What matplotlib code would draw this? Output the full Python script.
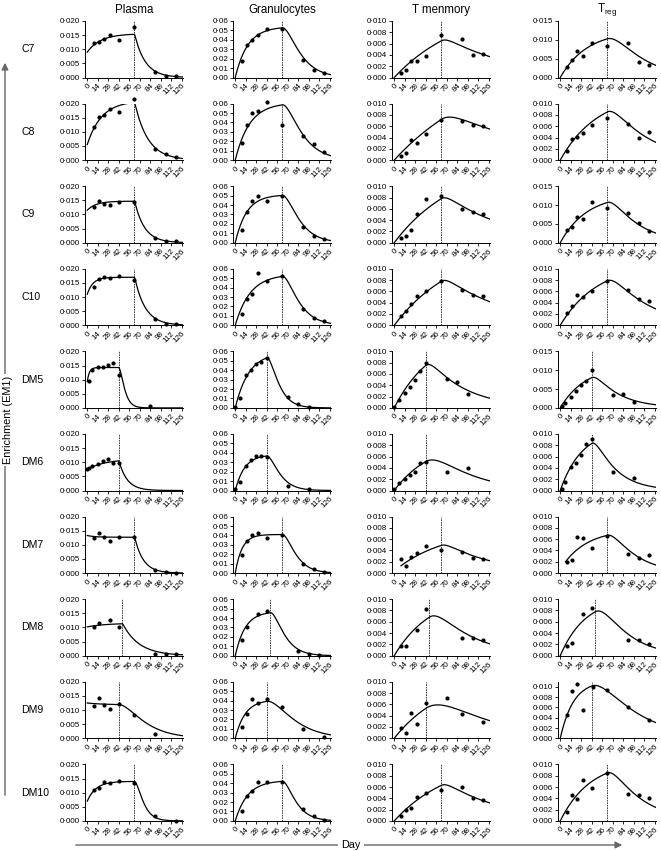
import numpy as np
import matplotlib
matplotlib.use("Agg")
import matplotlib.pyplot as plt

plt.rcParams['font.family'] = ['Liberation Sans', 'DejaVu Sans']

# ---------------- data ----------------
rows = ['C7', 'C8', 'C9', 'C10', 'DM5', 'DM6', 'DM7', 'DM8', 'DM9', 'DM10']
columns = ['Plasma', 'Granulocytes', 'T menmory', r'T$_{\mathregular{reg}}$']
stop_day = [63, 63, 63, 63, 42, 42, 63, 47, 42, 63]
x_ticks = [0, 14, 28, 42, 56, 70, 84, 98, 112, 126]

days_c = [9, 16, 23, 30, 42, 63, 91, 105, 119]
days_dm5 = [0, 7, 14, 21, 28, 35, 42, 70, 84, 98]

plasma_days = [days_c, days_c, days_c, days_c,
               [2, 7, 14, 21, 28, 35, 42, 84],
               [0, 2, 7, 14, 21, 28, 35, 42],
               days_c,
               [9, 16, 30, 42, 91, 105, 119],
               [9, 16, 23, 30, 42, 63, 91],
               [9, 16, 23, 30, 42, 63, 91, 119]]
plasma_vals = [[0.0123, 0.0127, 0.0138, 0.0150, 0.0132, 0.0177, 0.0020, 0.0005, 0.0006],
               [0.0118, 0.0153, 0.0160, 0.0180, 0.0170, 0.0218, 0.0040, 0.0020, 0.0010],
               [0.0127, 0.0149, 0.0136, 0.0133, 0.0144, 0.0145, 0.0018, 0.0005, 0.0005],
               [0.0137, 0.0163, 0.0171, 0.0168, 0.0174, 0.0161, 0.0024, 0.0005, 0.0005],
               [0.0096, 0.0134, 0.0144, 0.0146, 0.0152, 0.0159, 0.0115, 0.0006],
               [0.0076, 0.0079, 0.0085, 0.0094, 0.0105, 0.0113, 0.0098, 0.0097],
               [0.0126, 0.0141, 0.0129, 0.0114, 0.0127, 0.0129, 0.0012, 0.0004, 0.0002],
               [0.0102, 0.0115, 0.0127, 0.0100, 0.0007, 0.0005, 0.0005],
               [0.0113, 0.0144, 0.0119, 0.0104, 0.0120, 0.0084, 0.0014],
               [0.0108, 0.0116, 0.0136, 0.0135, 0.0142, 0.0135, 0.0017, 0.0001]]

gran_days = [days_c, days_c, days_c, days_c, days_dm5,
             [0, 7, 14, 21, 28, 35, 42, 70, 98],
             days_c,
             [9, 16, 30, 42, 84, 98, 112],
             [9, 16, 23, 30, 42, 63, 91, 119],
             days_c]
gran_vals = [[0.017, 0.034, 0.040, 0.045, 0.051, 0.052, 0.019, 0.008, 0.0045],
             [0.0185, 0.037, 0.050, 0.052, 0.062, 0.037, 0.026, 0.0167, 0.0085],
             [0.0136, 0.0329, 0.0443, 0.0500, 0.0440, 0.0500, 0.0168, 0.0075, 0.0039],
             [0.0121, 0.0275, 0.0332, 0.0554, 0.0471, 0.0525, 0.0175, 0.0082, 0.0046],
             [0.0007, 0.0108, 0.0349, 0.0406, 0.0467, 0.0485, 0.0528, 0.0119, 0.0043, 0.0011],
             [0.0018, 0.0093, 0.0255, 0.0327, 0.0370, 0.0370, 0.0360, 0.0047, 0.0018],
             [0.0187, 0.0342, 0.0406, 0.0424, 0.0378, 0.0406, 0.0099, 0.0039, 0.0007],
             [0.017, 0.030, 0.044, 0.047, 0.005, 0.0018, 0.0011],
             [0.0124, 0.0254, 0.0413, 0.0370, 0.0417, 0.0332, 0.0102, 0.0018],
             [0.0103, 0.0263, 0.0316, 0.0415, 0.0408, 0.0415, 0.0124, 0.0053, 0.0011]]

tmem_days = [days_c, days_c, days_c, days_c, days_dm5,
             [0, 7, 14, 21, 28, 35, 42, 70, 98],
             days_c,
             [9, 16, 30, 42, 91, 105, 119],
             [9, 16, 23, 30, 42, 70, 91, 119],
             days_c]
tmem_vals = [[0.0008, 0.0014, 0.0029, 0.0029, 0.0038, 0.0075, 0.0068, 0.0039, 0.0041],
             [0.0008, 0.0012, 0.0035, 0.0031, 0.0046, 0.0071, 0.0070, 0.0063, 0.0061],
             [0.0008, 0.0012, 0.0022, 0.0051, 0.0077, 0.0082, 0.0060, 0.0054, 0.0051],
             [0.0016, 0.0026, 0.0038, 0.0052, 0.0060, 0.0079, 0.0063, 0.0054, 0.0051],
             [0.0002, 0.0014, 0.0026, 0.0037, 0.0050, 0.0065, 0.0080, 0.0052, 0.0045, 0.0024],
             [0.0002, 0.0014, 0.0020, 0.0027, 0.0033, 0.0048, 0.0051, 0.0032, 0.0039],
             [0.0025, 0.0012, 0.0028, 0.0035, 0.0048, 0.0041, 0.0038, 0.0026, 0.0025],
             [0.0017, 0.0018, 0.0045, 0.0082, 0.0032, 0.0031, 0.0028],
             [0.0019, 0.0009, 0.0044, 0.0026, 0.0063, 0.0072, 0.0043, 0.0029],
             [0.0008, 0.0020, 0.0023, 0.0042, 0.0050, 0.0054, 0.0060, 0.0040, 0.0037]]

treg_days = [days_c, days_c, days_c, days_c,
             [3, 7, 14, 21, 28, 35, 42, 70, 84, 98],
             [2, 7, 14, 21, 28, 35, 42, 70, 98],
             days_c,
             [9, 16, 30, 42, 91, 105, 119],
             [9, 16, 23, 30, 44, 62, 91, 119],
             days_c]
treg_vals = [[0.0027, 0.0047, 0.0071, 0.0057, 0.0091, 0.0083, 0.0092, 0.0040, 0.0033],
             [0.0016, 0.0037, 0.0041, 0.0048, 0.0063, 0.0075, 0.0064, 0.0040, 0.0050],
             [0.0033, 0.0043, 0.0068, 0.0063, 0.0107, 0.0093, 0.0080, 0.0052, 0.0030],
             [0.0022, 0.0034, 0.0054, 0.0050, 0.0060, 0.0078, 0.0063, 0.0046, 0.0043],
             [0.0005, 0.0013, 0.0029, 0.0045, 0.0060, 0.0072, 0.0101, 0.0033, 0.0038, 0.0016],
             [0.0002, 0.0015, 0.0041, 0.0048, 0.0063, 0.0083, 0.0092, 0.0033, 0.0023],
             [0.0019, 0.0024, 0.0064, 0.0062, 0.0044, 0.0065, 0.0034, 0.0026, 0.0032],
             [0.0017, 0.0022, 0.0073, 0.0085, 0.0027, 0.0027, 0.0021],
             [0.0045, 0.0092, 0.0106, 0.0056, 0.0099, 0.0095, 0.0060, 0.0036],
             [0.0015, 0.0045, 0.0039, 0.0072, 0.0058, 0.0085, 0.0048, 0.0045, 0.0040]]

# fitted-curve parameters:
# (level A, rise rate d, post-stop decay d2, precursor decay g, start day t0, start value ys)
plasma_fit = [(0.0155, 0.055, 0.070, 3.0, 0, 0.0090),
              (0.0210, 0.052, 0.056, 3.0, 0, 0.0055),
              (0.0147, 0.083, 0.075, 3.0, 0, 0.0115),
              (0.0170, 0.130, 0.070, 3.0, 0, 0.0110),
              (0.0143, 0.350, 0.200, 0.25, 0, 0.0093),
              (0.0112, 0.040, 0.090, 3.0, 0, 0.0075),
              (0.0127, 0.100, 0.085, 3.0, 0, 0.0133),
              (0.0115, 0.040, 0.045, 3.0, 0, 0.0102),
              (0.0119, 0.050, 0.045, 0.055, 0, 0.0125),
              (0.0140, 0.085, 0.140, 0.15, 0, 0.0070)]
gran_fit = [(0.054, 0.060, 0.060, 0.09, 0, 0),
            (0.061, 0.052, 0.052, 0.09, 0, 0),
            (0.051, 0.066, 0.066, 0.09, 0, 0),
            (0.0543, 0.050, 0.065, 0.10, 0, 0),
            (0.059, 0.055, 0.100, 0.12, 0, 0),
            (0.038, 0.080, 0.090, 0.11, 0, 0),
            (0.041, 0.110, 0.090, 0.10, 0, 0),
            (0.047, 0.075, 0.085, 0.10, 0, 0),
            (0.041, 0.075, 0.045, 0.05, 0, 0),
            (0.043, 0.060, 0.090, 0.10, 0, 0)]
tmem_fit = [(0.0130, 0.011, 0.011, 0.15, 0, 0),
            (0.0182, 0.008, 0.008, 0.08, 0, 0),
            (0.0147, 0.012, 0.012, 0.15, 0, 0),
            (0.0147, 0.012, 0.012, 0.15, 0, 0),
            (0.0132, 0.020, 0.020, 0.15, 0, 0),
            (0.0090, 0.020, 0.020, 0.06, 0, 0),
            (0.0078, 0.015, 0.015, 0.15, 9, 0.0013),
            (0.0112, 0.020, 0.020, 0.08, 0, 0),
            (0.0113, 0.015, 0.015, 0.04, 0, 0),
            (0.01127, 0.013, 0.013, 0.15, 0, 0)]
treg_fit = [(0.0124, 0.028, 0.028, 0.06, 0, 0),
            (0.0119, 0.020, 0.020, 0.10, 0, 0),
            (0.0129, 0.028, 0.028, 0.10, 0, 0),
            (0.0110, 0.020, 0.020, 0.10, 0, 0),
            (0.0112, 0.030, 0.030, 0.15, 0, 0),
            (0.0108, 0.035, 0.035, 0.15, 0, 0),
            (0.00777, 0.030, 0.030, 0.10, 7, 0.0020),
            (0.0103, 0.030, 0.030, 0.07, 0, 0),
            (0.0112, 0.057, 0.057, 0.02, 0, 0),
            (0.0107, 0.025, 0.025, 0.10, 0, 0)]

plasma_lim = (0.020, 0.005, 3)
gran_lim = (0.06, 0.01, 2)
tmem_lim = (0.010, 0.002, 3)
treg_top = [0.015, 0.010, 0.015, 0.010, 0.015, 0.010, 0.010, 0.010, 0.011, 0.010]
treg_step = [0.005, 0.002, 0.005, 0.002, 0.005, 0.002, 0.002, 0.002, 0.002, 0.002]


def fitted(t, T, A, d, d2, g, t0, ys):
    t = np.asarray(t, dtype=float)
    if abs(d2 - g) < 1e-9:
        g += 1e-6
    rise = A + (ys - A) * np.exp(-d * (t - t0))
    yT = A + (ys - A) * np.exp(-d * (T - t0))
    q = d2 * yT + d * (A - yT)
    s = np.clip(t - T, 0, None)
    post = yT * np.exp(-d2 * s) + q / (d2 - g) * (np.exp(-g * s) - np.exp(-d2 * s))
    return np.where(t <= T, rise, post)


# ---------------- layout ----------------
W, H = 661, 851
fig = plt.figure(figsize=(W / 100, H / 100), dpi=100)
col_left = [85, 233, 392, 558]
ax_w = 98
row_top0 = 21
row_step = 82.6
ax_h = 56.5
XMIN, XMAX = -3, 128


def fmt(v, nd):
    return f"{v:.{nd}f}".replace('.', '\u00b7')


for i, row in enumerate(rows):
    T = stop_day[i]
    top = row_top0 + row_step * i
    panels = [
        (plasma_days[i], plasma_vals[i], plasma_fit[i], plasma_lim),
        (gran_days[i], gran_vals[i], gran_fit[i], gran_lim),
        (tmem_days[i], tmem_vals[i], tmem_fit[i], tmem_lim),
        (treg_days[i], treg_vals[i], treg_fit[i], (treg_top[i], treg_step[i], 3)),
    ]
    for j, (dd, vv, fitp, lim) in enumerate(panels):
        ax = fig.add_axes([col_left[j] / W, 1 - (top + ax_h) / H, ax_w / W, ax_h / H])
        ytop, ystep, nd = lim
        A, d, d2, g, t0, ys = fitp
        tt = np.sort(np.append(np.linspace(t0, XMAX, 500), T))
        ax.plot(tt, fitted(tt, T, A, d, d2, g, t0, ys), color='black', lw=0.9, zorder=3)
        ax.plot(dd, vv, 'o', color='black', ms=3.0, mew=0, zorder=4, clip_on=False)
        ax.axvline(T, color='#222222', lw=0.6, ls=(0, (2, 1)), zorder=2)
        ax.set_xlim(XMIN, XMAX)
        ax.set_ylim(0, ytop)
        yt = np.arange(0, ytop + 1e-9, ystep)
        ax.set_yticks(yt)
        ax.set_yticklabels([fmt(v, nd) for v in yt])
        ax.set_xticks(x_ticks)
        ax.set_xticklabels([str(v) for v in x_ticks], rotation=45, ha='right',
                           va='top', rotation_mode='anchor')
        for sp in ['top', 'right']:
            ax.spines[sp].set_visible(False)
        for sp in ['left', 'bottom']:
            ax.spines[sp].set_linewidth(0.7)
        ax.tick_params(axis='both', labelsize=5.8, length=2, width=0.6, pad=1.5)
        if i == 0:
            fig.text((col_left[j] + ax_w / 2) / W, 1 - 10 / H, columns[j],
                     ha='center', va='center', fontsize=8.3)
    fig.text(21 / W, 1 - (top + ax_h / 2) / H, row, ha='left', va='center', fontsize=7.6)

# axis arrows
gray = '#666666'
fig.add_artist(matplotlib.patches.FancyArrowPatch(
    (5 / W, 1 - 798 / H), (5 / W, 1 - 60 / H), transform=fig.transFigure,
    arrowstyle='-|>,head_length=4,head_width=2', color=gray, lw=1.0))
fig.text(8 / W, 1 - 420 / H, 'Enrichment (EM1)', rotation=90, ha='center', va='center',
         fontsize=7.8, bbox=dict(facecolor='white', edgecolor='none', pad=1.5))
fig.add_artist(matplotlib.patches.FancyArrowPatch(
    (73 / W, 1 - 845 / H), (625 / W, 1 - 845 / H), transform=fig.transFigure,
    arrowstyle='-|>,head_length=4,head_width=2', color=gray, lw=1.0))
fig.text(351 / W, 1 - 845 / H, 'Day', ha='center', va='center', fontsize=7.8,
         bbox=dict(facecolor='white', edgecolor='none', pad=2))

fig.savefig('out.png', dpi=100)
